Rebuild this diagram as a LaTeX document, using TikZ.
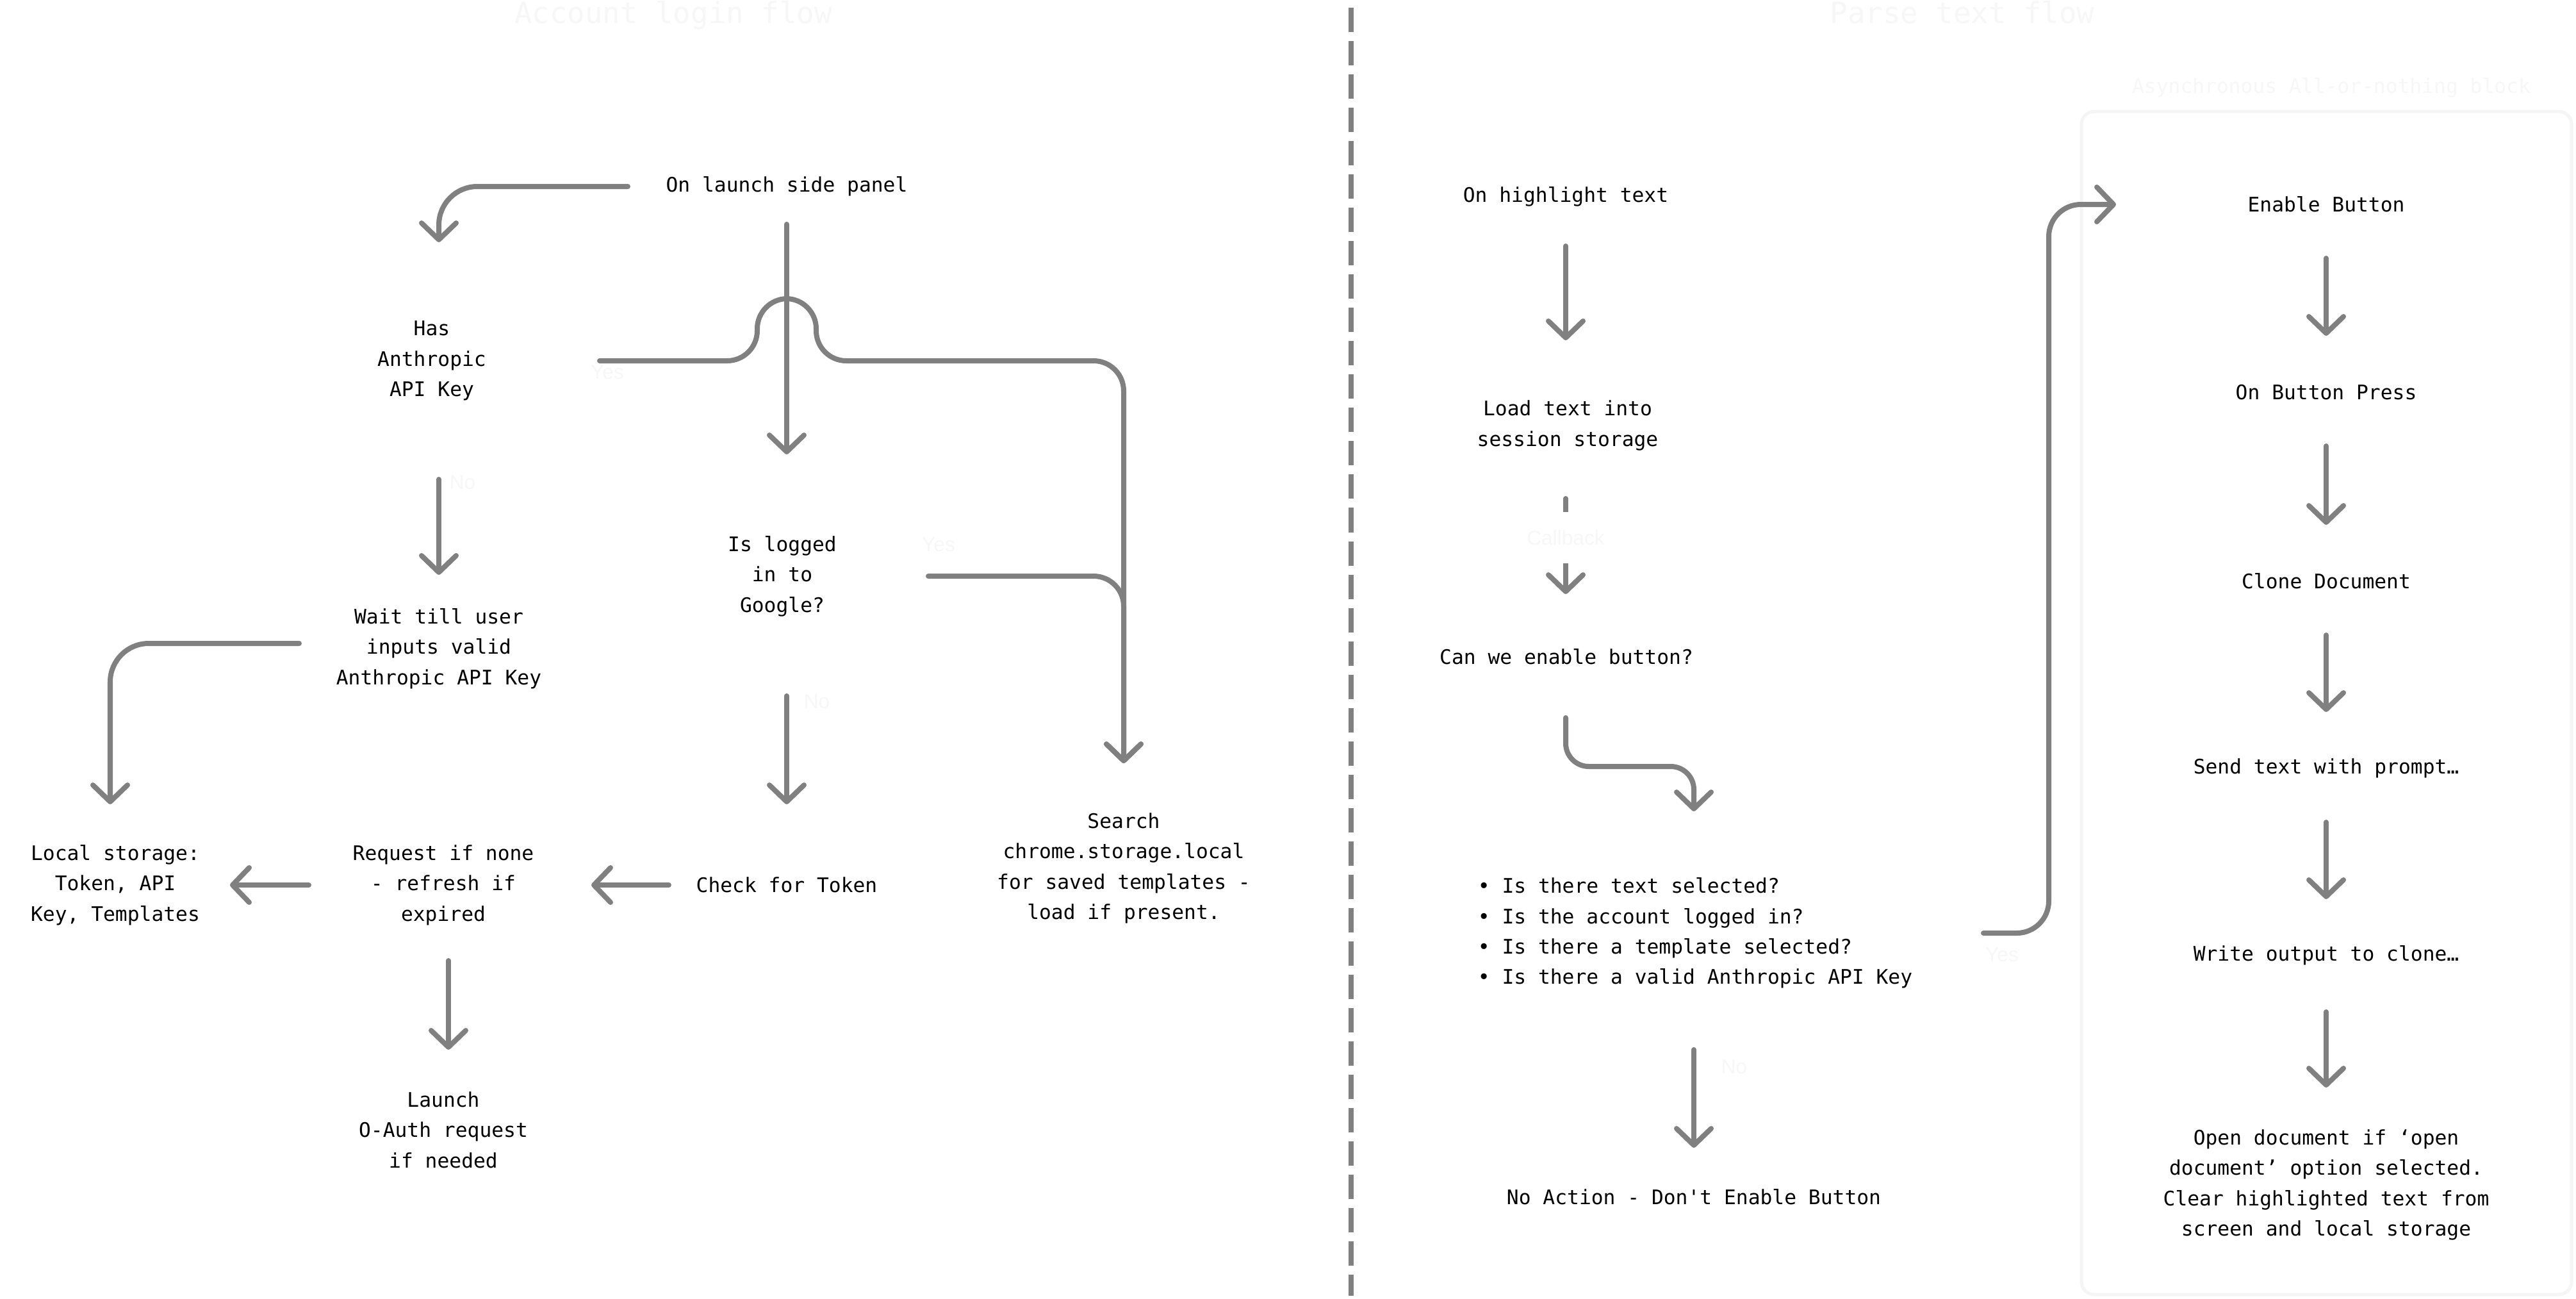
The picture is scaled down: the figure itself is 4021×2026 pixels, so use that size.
\documentclass[tikz,border=0pt]{standalone}
\usepackage{fontspec}
\setmonofont{DejaVu Sans Mono}
\setsansfont{Liberation Sans}
\usetikzlibrary{arrows.meta,calc}
\definecolor{mygrey}{RGB}{128,128,128}
\definecolor{myfaint}{RGB}{247,247,247}
\definecolor{myframe}{RGB}{245,245,245}

\begin{document}
\begin{tikzpicture}[x=0.01cm,y=-0.01cm,
  txt/.style={font=\ttfamily\fontsize{8.9}{13.5}\selectfont,align=center,inner sep=0pt,yshift=-0.04cm},
  flow/.style={draw=mygrey,line width=0.08cm,line cap=round,line join=round,
    -{Straight Barb[round,length=0.26cm,width=0.54cm]}},
  tag/.style={font=\sffamily\fontsize{9}{10}\selectfont,text=myfaint,inner sep=0pt},
  heading/.style={font=\ttfamily\fontsize{13}{15}\selectfont,text=myfaint,anchor=base}]
  \useasboundingbox (0,0) rectangle (4021,2026);
  \fill[white] (0,0) rectangle (4021,2026);

  \node[heading] (logintitle) at (1051,36) {Account login flow};
  \node[heading] (parsetitle) at (3063,36) {Parse text flow};
  \draw[mygrey,line width=0.08cm,dash pattern=on 0.38cm off 0.14cm] (2109,12) -- (2109,2022);
  \draw[myframe,line width=0.05cm,rounded corners=0.2cm] (3249,174) rectangle (4014,2020);
  \node[txt,text=myfaint] (asynctitle) at (3639,133) {Asynchronous All-or-nothing block};

  % account login flow
  \node[txt] (launch) at (1228,287) {On launch side panel};
  \node[txt] (apikey) at (674,559) {Has\\Anthropic\\API Key};
  \node[txt] (wait) at (685,1008) {Wait till user\\inputs valid\\Anthropic API Key};
  \node[txt] (local) at (180,1377) {Local storage:\\Token, API\\Key, Templates};
  \node[txt] (request) at (692,1377) {Request if none\\- refresh if\\expired};
  \node[txt] (oauth) at (692,1759) {Launch\\O-Auth request\\if needed};
  \node[txt] (logged) at (1221,895) {Is logged\\in to\\Google?};
  \node[txt] (token) at (1228,1377) {Check for Token};
  \node[txt] (search) at (1754,1351) {Search\\chrome.storage.local\\for saved templates -\\load if present.};

  \draw[flow,rounded corners=0.6cm] ($(launch)+(-248,0)$) -| ($(apikey)+(11,-185)$);
  \draw[flow] ($(launch)+(0,59)$) -- ($(logged)+(7,-190)$);
  \draw[flow,rounded corners=0.47cm] ($(apikey)+(262,0)$) -- ++(246,0) -- ++(0,-97)
    -- ++(92,0) -- ++(0,97) -| ($(search)+(0,-164)$);
  \draw[flow,rounded corners=0.47cm] ($(logged)+(228,0)$) -| ($(search)+(0,-164)$);
  \draw[flow] ($(apikey)+(11,185)$) -- ($(wait)+(0,-115)$);
  \draw[flow,rounded corners=0.6cm] ($(wait)+(-218,-8)$) -| ($(local)+(-8,-126)$);
  \draw[flow] ($(logged)+(7,187)$) -- ($(token)+(0,-126)$);
  \draw[flow] ($(token)+(-184,0)$) -- ($(request)+(231,0)$);
  \draw[flow] ($(request)+(-210,0)$) -- ($(local)+(179,0)$);
  \draw[flow] ($(request)+(8,118)$) -- ($(oauth)+(8,-125)$);

  \node[tag] (yeskey) at (948,581) {Yes};
  \node[tag] (yesgoogle) at (1465,850) {Yes};
  \node[tag] (nokey) at (722,753) {No};
  \node[tag] (nogoogle) at (1275,1095) {No};

  % parse text flow
  \node[txt] (highlight) at (2444,303) {On highlight text};
  \node[txt] (load) at (2447,660) {Load text into\\session storage};
  \node[txt] (enable) at (2445,1021) {Can we enable button?};
  \node[txt,align=left] (checks) at (2646,1452) {• Is there text selected?\\• Is the account logged in?\\• Is there a template selected?\\• Is there a valid Anthropic API Key};
  \node[txt] (noaction) at (2644,1864) {No Action - Don't Enable Button};
  \node[txt] (btn) at (3631,315) {Enable Button};
  \node[txt] (press) at (3631,608) {On Button Press};
  \node[txt] (clone) at (3631,903) {Clone Document};
  \node[txt] (send) at (3631,1195) {Send text with prompt…};
  \node[txt] (write) at (3631,1487) {Write output to clone…};
  \node[txt] (open) at (3631,1845) {Open document if ‘open\\document’ option selected.\\Clear highlighted text from\\screen and local storage};

  \draw[flow] ($(highlight)+(0,77)$) -- ($(load)+(-3,-133)$);
  \draw[flow] ($(load)+(-3,114)$) -- ($(enable)+(-1,-98)$)
    node[tag,pos=0.41,fill=white,minimum height=0.8cm,inner xsep=0.05cm] (callback) {Callback};
  \draw[flow,rounded corners=0.36cm] ($(enable)+(-1,95)$) |- ($(checks)+(-2,-260)$) -- ($(checks)+(-2,-190)$);
  \draw[flow,rounded corners=0.5cm] ($(checks)+(450,0)$) -- ++(102,0) |- ($(btn)+(-328,0)$);
  \draw[flow] ($(checks)+(-2,182)$) -- ($(noaction)+(0,-77)$);
  \foreach \from/\to in {btn/press,press/clone,clone/send,send/write}
    \draw[flow] ($(\from)+(0,84)$) -- ($(\to)+(0,-88)$);
  \draw[flow] ($(write)+(0,88)$) -- ($(open)+(0,-152)$);

  \node[tag] (yesenable) at (3125,1490) {Yes};
  \node[tag] (noenable) at (2707,1665) {No};
\end{tikzpicture}
\end{document}
